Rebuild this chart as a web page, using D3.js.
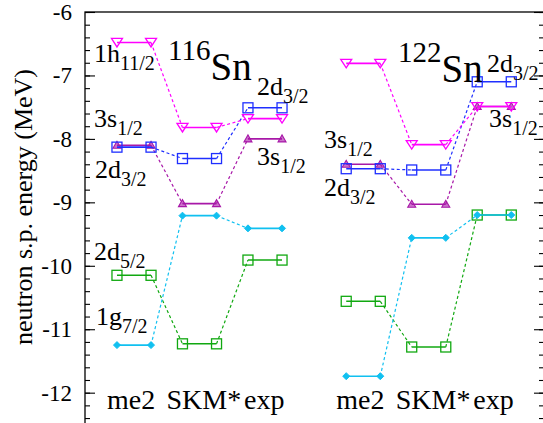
<!DOCTYPE html>
<html>
<head>
<meta charset="utf-8">
<script src="https://cdn.jsdelivr.net/npm/d3@7"></script>
<style>
  html, body { margin: 0; padding: 0; background: #fff; }
  svg { display: block; }
  text { font-family: "Liberation Serif", "Times New Roman", serif; fill: #000; }
</style>
</head>
<body>
<svg id="chart" width="543" height="423"></svg>
<script>
// Neutron single-particle levels (MeV) for 116Sn and 122Sn
const levels = ["1h11/2", "3s1/2", "2d3/2", "2d5/2", "1g7/2"];
const methods = ["me2", "SKM*", "exp"];

const sn116_me2 = [-6.48, -8.10, -8.13, -10.15, -11.25];
const sn116_skm = [-7.82, -9.02, -8.31, -11.23, -9.21];
const sn116_exp = [-7.68, -8.00, -7.51, -9.91, -9.41];

const sn122_me2 = [-6.81, -8.40, -8.47, -10.56, -11.74];
const sn122_skm = [-8.09, -9.03, -8.49, -11.28, -9.56];
const sn122_exp = [-7.49, -7.49, -7.10, -9.20, -9.20];

const yTicks = [-6, -7, -8, -9, -10, -11, -12];

// column slots along x: three for each nucleus, with a gap between them
const groups = [
  { nucleus: "116", slots: [0, 1, 2], values: [sn116_me2, sn116_skm, sn116_exp] },
  { nucleus: "122", slots: [3.5, 4.5, 5.5], values: [sn122_me2, sn122_skm, sn122_exp] }
];
const labelShift = [-10, -16, -4]; // method name start relative to the bar's left end (px)

const style = {
  "1h11/2": { color: "#ff00ff", marker: "tridown" },
  "3s1/2":  { color: "#a818a8", marker: "triup" },
  "2d3/2":  { color: "#1f2fff", marker: "square" },
  "2d5/2":  { color: "#10a810", marker: "square" },
  "1g7/2":  { color: "#10c0f0", marker: "diamond" }
};

const svg = d3.select("#chart");
const frame = { left: 85, right: 544, top: 12, bottom: 424.4 };

const y = d3.scaleLinear().domain([-6, -12.5]).range([frame.top, frame.bottom]);
const x = d3.scaleLinear().domain([0, 5.5]).range([134, 494.25]);
const halfW = 0.26; // half width of a level bar, in slot units

// frame
svg.append("rect")
  .attr("x", frame.left).attr("y", frame.top)
  .attr("width", frame.right - frame.left).attr("height", frame.bottom - frame.top)
  .attr("fill", "none").attr("stroke", "#000").attr("stroke-width", 1.3);

// ticks on left and right sides, pointing inward
const minor = d3.range(-6, -12.5001, -0.2).map(v => +v.toFixed(1));
function ticks(axis, xPos) {
  const g = svg.append("g").attr("transform", `translate(${xPos},0)`).call(axis);
  g.select(".domain").remove();
  g.selectAll(".tick line").attr("stroke", "#000").attr("stroke-width", 1.1);
}
ticks(d3.axisRight(y).tickValues(minor).tickSize(5).tickFormat(""), frame.left);
ticks(d3.axisLeft(y).tickValues(minor).tickSize(5).tickFormat(""), frame.right);
ticks(d3.axisRight(y).tickValues(yTicks).tickSize(10).tickFormat(""), frame.left);
ticks(d3.axisLeft(y).tickValues(yTicks).tickSize(10).tickFormat(""), frame.right);

// tick labels
svg.append("g").selectAll("text").data(yTicks).join("text")
  .attr("x", 72).attr("y", d => y(d) + 8)
  .attr("text-anchor", "end")
  .style("font-size", "23px")
  .text(d => d);

// y axis title
svg.append("text")
  .attr("transform", "translate(32,207) rotate(-90)")
  .attr("text-anchor", "middle")
  .style("font-size", "26px")
  .text("neutron s.p. energy (MeV)");

// marker shapes
function marker(g, type, color, cx, cy) {
  if (type === "square") {
    g.append("rect").attr("x", cx - 5).attr("y", cy - 5).attr("width", 10).attr("height", 10)
      .attr("fill", "none").attr("stroke", color).attr("stroke-width", 1.3);
  } else if (type === "tridown") {
    g.append("path").attr("d", `M${cx - 5.5},${cy - 4}L${cx + 5.5},${cy - 4}L${cx},${cy + 4.5}Z`)
      .attr("fill", "none").attr("stroke", color).attr("stroke-width", 1.3);
  } else if (type === "triup") {
    g.append("path").attr("d", `M${cx - 4},${cy + 3}L${cx + 4},${cy + 3}L${cx},${cy - 4}Z`)
      .attr("fill", color).attr("fill-opacity", 0.6).attr("stroke", color).attr("stroke-width", 1.1);
  } else if (type === "diamond") {
    g.append("path").attr("d", `M${cx - 3.5},${cy}L${cx},${cy - 3.5}L${cx + 3.5},${cy}L${cx},${cy + 3.5}Z`)
      .attr("fill", color).attr("stroke", color).attr("stroke-width", 1);
  }
}

// levels: solid bar per method, dotted link between neighbouring methods
const plot = svg.append("g");
const drawOrder = ["2d5/2", "1g7/2", "3s1/2", "2d3/2", "1h11/2"];
groups.forEach(grp => {
  drawOrder.forEach(lv => {
    const i = levels.indexOf(lv);
    const st = style[lv];
    const g = plot.append("g");
    const pts = grp.slots.map((s, k) => ({ x0: x(s - halfW), x1: x(s + halfW), yv: y(grp.values[k][i]) }));
    for (let k = 0; k < pts.length - 1; k++) {
      g.append("line")
        .attr("x1", pts[k].x1).attr("y1", pts[k].yv)
        .attr("x2", pts[k + 1].x0).attr("y2", pts[k + 1].yv)
        .attr("stroke", st.color).attr("stroke-width", 1.2)
        .attr("stroke-dasharray", "3,2.5");
    }
    pts.forEach(p => {
      g.append("line")
        .attr("x1", p.x0).attr("y1", p.yv).attr("x2", p.x1).attr("y2", p.yv)
        .attr("stroke", st.color).attr("stroke-width", 1.6);
      marker(g, st.marker, st.color, p.x0, p.yv);
      marker(g, st.marker, st.color, p.x1, p.yv);
    });
  });
});

// method names under each column
groups.forEach(grp => {
  grp.slots.forEach((s, k) => {
    svg.append("text")
      .attr("x", x(s - halfW) + labelShift[k]).attr("y", 409)
      .style("font-size", "28px")
      .text(methods[k]);
  });
});

// orbital labels with subscripts
function orbital(name, px, py) {
  const m = name.match(/^(\d[a-z])(.+)$/);
  const t = svg.append("text")
    .attr("x", px).attr("y", py)
    .style("font-size", "26px");
  t.append("tspan").text(m[1]);
  t.append("tspan").attr("dy", 8).style("font-size", "20px").text(m[2]);
}
orbital("1h11/2", 94, 62);
orbital("3s1/2", 94, 127);
orbital("2d3/2", 95, 178);
orbital("2d5/2", 94, 260);
orbital("1g7/2", 96, 325);
orbital("2d3/2", 257, 95);
orbital("3s1/2", 257, 165);
orbital("3s1/2", 324, 148);
orbital("2d3/2", 324, 196);
orbital("2d3/2", 487, 72);
orbital("3s1/2", 489, 127);

// nucleus names
function nucleus(mass, px, py) {
  const t = svg.append("text").attr("x", px).attr("y", py);
  t.append("tspan").style("font-size", "29px").text(mass);
  t.append("tspan").attr("dy", 20).style("font-size", "39px").text("Sn");
}
nucleus(groups[0].nucleus, 168, 60);
nucleus(groups[1].nucleus, 398, 62);
</script>
</body>
</html>
